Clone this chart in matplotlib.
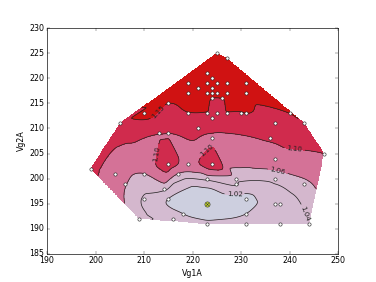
import numpy as np
import matplotlib
matplotlib.use('Agg')
import matplotlib.pyplot as plt
import matplotlib.tri as mtri

# measured points (Vg1A, Vg2A) and the ratio at each point
vg1 = [225, 227, 223, 224, 219, 223, 225, 227, 231, 219, 221, 223, 224, 224, 225, 227, 231,
       224, 226, 210, 215, 219, 223, 225, 227, 230, 231, 240, 243, 224,
       205, 221, 237, 236, 199, 213, 215, 247, 215, 224,
       224, 237, 219, 204, 206, 210, 217,
       223, 229, 229, 237, 243, 214, 209, 210, 215, 218, 223, 231, 231, 237, 238,
       216, 223, 231, 238, 244]
vg2 = [225, 224, 221, 220, 219, 219, 219, 219, 219, 217, 218, 217, 218, 217, 217, 217, 217,
       216, 216, 213, 215, 213, 213, 213, 213, 213, 213, 213, 211, 212,
       211, 210, 211, 208, 202, 209, 209, 205, 203, 203,
       208, 204, 203, 201, 199, 201, 201,
       200, 200, 199, 200, 199, 198, 192, 196, 196, 193, 195, 196, 193, 195, 195,
       192, 191, 191, 191, 191]
ratio = [1.20, 1.20, 1.19, 1.19, 1.18, 1.19, 1.19, 1.19, 1.18, 1.17, 1.18, 1.17, 1.18, 1.165, 1.165, 1.165, 1.165,
         1.15, 1.15, 1.17, 1.15, 1.148, 1.148, 1.145, 1.148, 1.148, 1.15, 1.15, 1.148, 1.14,
         1.13, 1.115, 1.125, 1.105, 1.115, 1.101, 1.10, 1.10, 1.122, 1.127,
         1.09, 1.08, 1.08, 1.075, 1.062, 1.06, 1.06,
         1.045, 1.046, 1.043, 1.046, 1.055, 1.045, 1.05, 1.038, 1.02, 1.02, 1.00, 1.015, 1.02, 1.03, 1.03,
         1.03, 1.025, 1.025, 1.03, 1.04]
best = (223, 195)

levels = [0.98, 1.02, 1.04, 1.06, 1.10, 1.15, 1.25]
band_colors = ['#cdcfdf', '#d4bbd1', '#d4b7cd', '#d47297', '#d02b4d', '#d01212']
# where each contour line gets its label
label_spots = {
    1.02: [(228.7, 197.6)],
    1.04: [(243, 193)],
    1.06: [(237.5, 201.5)],
    1.10: [(241, 206), (212.6, 205), (223.6, 205)],
    1.15: [(212, 214)],
}

plt.style.use('classic')
fig = plt.figure(figsize=(8, 6), dpi=47)
ax = fig.add_subplot(111)

tri = mtri.Triangulation(vg1, vg2)
interp = mtri.CubicTriInterpolator(tri, ratio, kind='geom')
gx, gy = np.meshgrid(np.linspace(min(vg1), max(vg1), 250), np.linspace(min(vg2), max(vg2), 250))
gz = interp(gx, gy)

ax.contourf(gx, gy, gz, levels=levels, colors=band_colors)
for lev, spots in label_spots.items():
    cs = ax.contour(gx, gy, gz, levels=[lev], colors='#222222', linewidths=1.1)
    ax.clabel(cs, fmt='%.2f', fontsize=11, manual=spots)

ax.plot(vg1, vg2, 'o', mfc='white', mec='#222222', ms=5, mew=0.9)
ax.plot(best[0], best[1], 'o', mfc='#c8dc2a', mec='#333333', ms=8, mew=0.9)
ax.plot(best[0], best[1], 'x', color='#333333', ms=4, mew=0.9)

ax.set_xlim(190, 250)
ax.set_ylim(185, 230)
ax.set_xlabel('Vg1A')
ax.set_ylabel('Vg2A')

fig.savefig('out.png', dpi=47)
